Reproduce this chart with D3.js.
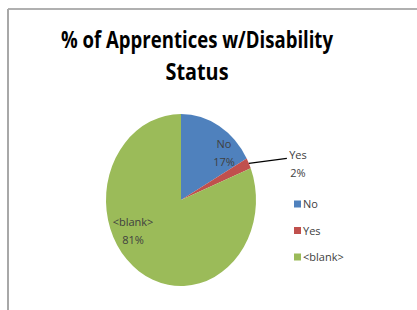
<!DOCTYPE html>
<html><head><meta charset="utf-8">
<script src="https://cdn.jsdelivr.net/npm/d3@7"></script>
<style>body{margin:0;background:#fff;} svg{display:block;}</style>
</head><body>
<svg id="c" width="417" height="310"></svg>
<script>
const categories = ["No", "Yes", "<blank>"];
const values = [17, 2, 81];
const colors = ["#4F81BD", "#C0504D", "#9BBB59"];
const titleLines = ["% of Apprentices w/Disability", "Status"];

const svg = d3.select("#c");
// frame
svg.append("line").attr("x1",8).attr("y1",9).attr("x2",417).attr("y2",9).attr("stroke","#b0b0b0").attr("stroke-width",2);
svg.append("line").attr("x1",8).attr("y1",9).attr("x2",8).attr("y2",310).attr("stroke","#a8a8a8").attr("stroke-width",2);

// title
const title = svg.append("text").attr("font-family","'Open Sans', sans-serif").attr("font-weight","bold")
  .attr("font-size",23).attr("fill","#000").attr("text-anchor","middle");
title.append("tspan").attr("x",197).attr("y",48).attr("textLength",272).attr("lengthAdjust","spacingAndGlyphs").text(titleLines[0]);
title.append("tspan").attr("x",197).attr("y",80).attr("textLength",63).attr("lengthAdjust","spacingAndGlyphs").text(titleLines[1]);

const cx = 181, cy = 200, rx = 75, ry = 86;
const pie = d3.pie().sort(null).value(d => d);
const arcs = pie(values);
const arc = d3.arc().innerRadius(0).outerRadius(rx);
const g = svg.append("g").attr("transform", `translate(${cx},${cy}) scale(1,${ry/rx})`);
g.selectAll("path").data(arcs).enter().append("path")
  .attr("d", arc).attr("fill", (d,i) => colors[i]);

// data labels
const lab = svg.append("g").attr("font-family","'Open Sans', sans-serif").attr("font-size",11).attr("fill","#404040").attr("text-anchor","middle");
const pct = v => Math.round(v) + "%";
const total = d3.sum(values);
const labelPos = [[224,148],[298,159],[133,226]];
labelPos.forEach((p,i) => {
  const t = lab.append("text").attr("x",p[0]).attr("y",p[1]);
  t.append("tspan").attr("x",p[0]).text(categories[i]);
  t.append("tspan").attr("x",p[0]).attr("dy",18).text(pct(values[i]/total*100));
});
// leader line for Yes
const mid = (arcs[1].startAngle + arcs[1].endAngle)/2;
const ex = cx + Math.sin(mid)*rx, ey = cy - Math.cos(mid)*ry;
svg.append("path").attr("d", `M${ex},${ey}L${ex+38},${ey-5}`).attr("stroke","#000").attr("stroke-width",1.2).attr("fill","none");

// legend
const leg = svg.append("g").attr("font-family","'Open Sans', sans-serif").attr("font-size",11).attr("fill","#404040");
categories.forEach((c,i) => {
  const y = 204 + i*26.5;
  leg.append("rect").attr("x",294).attr("y",y-3.5).attr("width",7).attr("height",7).attr("fill",colors[i]);
  leg.append("text").attr("x",303).attr("y",y+4).text(c);
});
</script>
</body></html>
